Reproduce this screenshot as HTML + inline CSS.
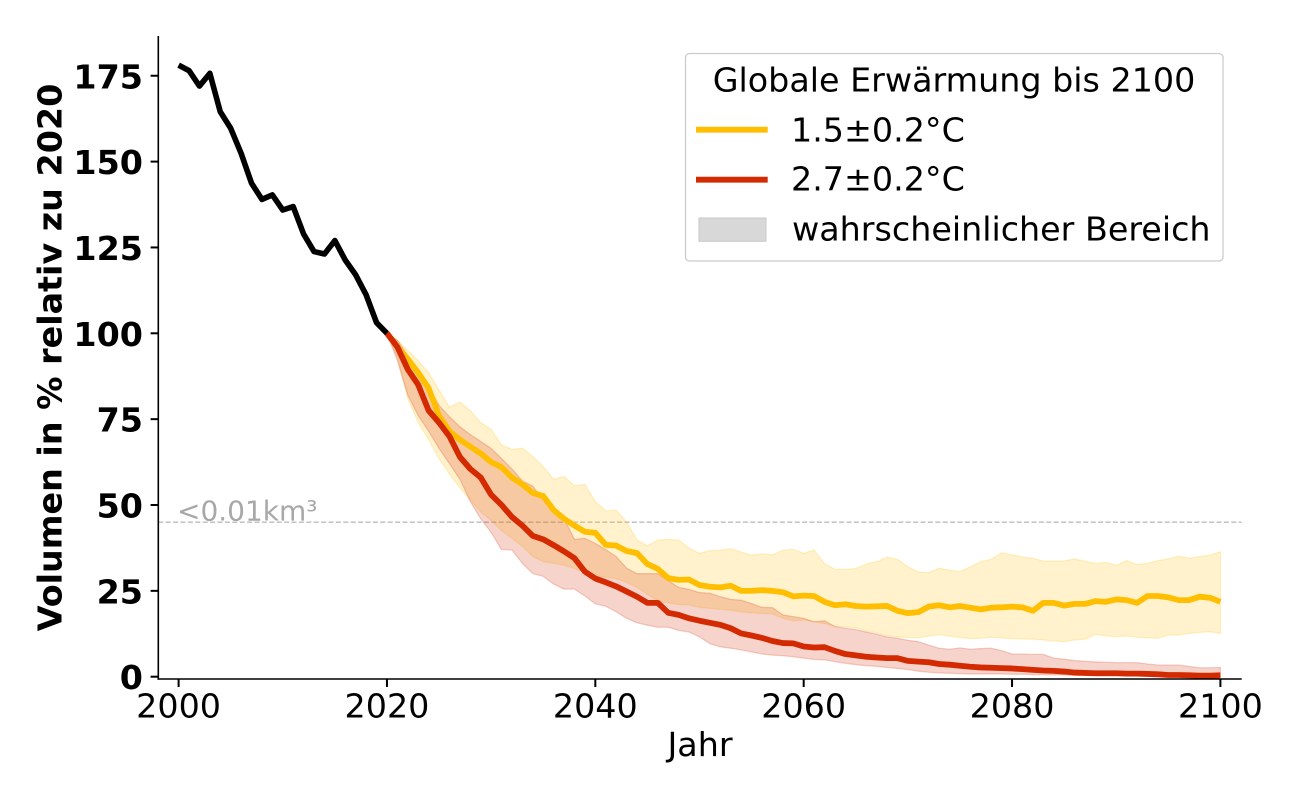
<!DOCTYPE html>
<html>
<head>
<meta charset="utf-8">
<style>
  html, body { margin: 0; padding: 0; background: #ffffff; }
  svg { display: block; }
  text { font-family: "DejaVu Sans", "Liberation Sans", sans-serif; }
</style>
</head>
<body>
<svg width="1300" height="800" viewBox="0 0 1300 800" xmlns="http://www.w3.org/2000/svg">
  <rect x="0" y="0" width="1300" height="800" fill="#ffffff"/>

  <!-- reference dashed line -->
  <line x1="158.3" y1="522.2" x2="1241.7" y2="522.2" stroke="#bcbcbc" stroke-width="1.3" stroke-dasharray="5,2.4"/>
  <text x="177" y="520.5" font-size="28" fill="#a8a8a8">&lt;0.01km³</text>

  <!-- data group: x = 178.6 + t*10.418, y = 676.7 - v*3.434 -->
  <g transform="translate(178.6,676.7) scale(10.418,-3.434)">
    <!-- yellow band -->
    <polygon fill="#FFBF00" fill-opacity="0.2" stroke="#FFBF00" stroke-opacity="0.2" stroke-width="1.3" vector-effect="non-scaling-stroke" stroke-linejoin="round"
      points="20,100 21,98 22,95 23,92 24,88.5 25,83.5 26,78.5 27,80 28,77.5 29,74 30,72 31,67.5 32,66.2 33,66.6 34,64.1 35,61.2 36,57.5 37,58.3 38,55.6 39,56 40,51 41,48.3 42,48.5 43,45.1 44,39.8 45,38.1 46,39.8 47,40 48,39.8 49,37.4 50,35.9 51,36.7 52,36.8 53,37.3 54,36.3 55,35.4 56,35.8 57,35.5 58,36.8 59,37.1 60,35.9 61,36.9 62,32.9 63,31.3 64,31.3 65,31.5 66,32.8 67,33.5 68,34.8 69,34.2 70,32 71,30.5 72,30.3 73,31.6 74,31 75,30.6 76,32 77,33.5 78,34.2 79,36.1 80,35.5 81,34.9 82,34.5 83,33.7 84,33.7 85,33.7 86,34.3 87,33.6 88,33 89,33.3 90,32.5 91,33.8 92,32.7 93,33 94,33.8 95,34.3 96,35.1 97,34.5 98,35 99,35.4 100,36.4
      100,12.6 99,13.1 98,12.9 97,12.6 96,12.1 95,12.1 94,11.2 93,11.3 92,11.5 91,11.9 90,11.6 89,11.9 88,12.3 87,10.9 86,10.7 85,10.2 84,10.4 83,10.7 82,10.9 81,11 80,11.1 79,11.3 78,11.5 77,11.2 76,11.1 75,11.4 74,11.8 73,12.3 72,11.8 71,11.3 70,11.4 69,11.6 68,11.9 67,12.8 66,13.3 65,14.2 64,14.5 63,14.7 62,15.5 61,16 60,16.5 59,16.3 58,17 57,18.3 56,18.4 55,18.6 54,18.9 53,19.4 52,19.6 51,19.9 50,20.2 49,20.9 48,21 47,21.5 46,22.2 45,24 44,26 43,27.5 42,28.5 41,29 40,29.5 39,30.3 38,31.5 37,32.5 36,33 35,33.5 34,35 33,38 32,40.3 31,42.5 30,45.5 29,48 28,51.5 27,55 26,59 25,63.5 24,69 23,74 22,81 21,93 20,100"/>
    <!-- red band -->
    <polygon fill="#D42A02" fill-opacity="0.2" stroke="#D42A02" stroke-opacity="0.2" stroke-width="1.3" vector-effect="non-scaling-stroke" stroke-linejoin="round"
      points="20,100 21,98 22,93.5 23,89 24,84.5 25,79 26,75.7 27,72.8 28,70.5 29,68.5 30,66.5 31,63.5 32,60.5 33,57 34,55.5 35,51.5 36,48.7 37,46 38,40 39,40.3 40,38.8 41,37 42,35 43,31.6 44,30 45,30 46,30 47,28 48,26 49,25.4 50,24.5 51,24.3 52,23.3 53,22.5 54,22.3 55,21.3 56,20.2 57,20.1 58,18 59,17.5 60,17 61,16 62,16.3 63,14.6 64,14.1 65,13.7 66,13 67,12.4 68,11.6 69,11.2 70,10.6 71,10.2 72,9.2 73,8.3 74,8 75,8.4 76,8 77,8.2 78,8.3 79,7.6 80,6.6 81,6.6 82,6.5 83,6.5 84,5.4 85,5.1 86,4.7 87,4.5 88,4.3 89,4.2 90,4.1 91,4.1 92,4.1 93,3.7 94,3.4 95,3.4 96,3.4 97,3 98,2.6 99,2.6 100,2.7
      100,0.1 99,0.1 98,0.1 97,0.1 96,0.1 95,0.1 94,0.1 93,0.2 92,0.2 91,0.2 90,0.3 89,0.3 88,0.3 87,0.4 86,0.4 85,0.5 84,0.5 83,0.6 82,0.6 81,0.7 80,0.7 79,0.8 78,0.8 77,0.8 76,0.8 75,0.9 74,1 73,1.1 72,1.3 71,1.6 70,2.1 69,2.4 68,2.7 67,3 66,3.2 65,3.5 64,3.9 63,4.4 62,4.9 61,5 60,5.4 59,5.8 58,6.1 57,6.3 56,6.6 55,7.2 54,7.8 53,8.3 52,8.7 51,9.6 50,11.6 49,13 48,13.5 47,14.4 46,14.4 45,15 44,15.7 43,17 42,18.9 41,20.5 40,21.2 39,23.5 38,25.5 37,25.5 36,27 35,29.2 34,30 33,33 32,36.9 31,37 30,42 29,46 28,51 27,57.5 26,62 25,66.5 24,71.5 23,76 22,82 21,92 20,100"/>

    <!-- yellow line -->
    <polyline fill="none" stroke="#FFBF00" stroke-width="5.8" vector-effect="non-scaling-stroke" stroke-linejoin="round" stroke-linecap="butt"
      points="20,100 21,96 22,92.5 23,88.5 24,84 25,76 26,71.5 27,69 28,67 29,65 30,62.5 31,61 32,58 33,56 34,53.5 35,52.6 36,48.5 37,46 38,44 39,42.2 40,41.9 41,38.4 42,38.2 43,36.6 44,36 45,32.8 46,31.4 47,28.7 48,28.2 49,28.3 50,26.7 51,26.2 52,26 53,26.5 54,25 55,25 56,25.2 57,25 58,24.6 59,23.4 60,23.6 61,23.5 62,21.8 63,20.8 64,21.1 65,20.6 66,20.4 67,20.5 68,20.6 69,19.2 70,18.5 71,18.8 72,20.4 73,20.8 74,20.2 75,20.6 76,20.1 77,19.6 78,20.1 79,20.2 80,20.4 81,20.2 82,19.2 83,21.5 84,21.5 85,20.7 86,21.2 87,21.2 88,22 89,21.8 90,22.5 91,22.3 92,21.5 93,23.5 94,23.5 95,23.1 96,22.3 97,22.3 98,23.3 99,23 100,21.8"/>
    <!-- red line -->
    <polyline fill="none" stroke="#D42A02" stroke-width="5.8" vector-effect="non-scaling-stroke" stroke-linejoin="round" stroke-linecap="butt"
      points="20,100 21,96 22,89.5 23,85 24,77.5 25,74 26,70 27,64 28,60.5 29,58 30,53 31,50 32,46.5 33,44 34,41 35,40 36,38.3 37,36.5 38,34.5 39,30.6 40,28.6 41,27.5 42,26.3 43,24.8 44,23.3 45,21.5 46,21.5 47,18.6 48,18 49,17 50,16.3 51,15.7 52,15.1 53,14.1 54,12.6 55,12 56,11.3 57,10.4 58,9.8 59,9.7 60,8.8 61,8.5 62,8.6 63,7.5 64,6.6 65,6.2 66,5.8 67,5.6 68,5.4 69,5.4 70,4.6 71,4.4 72,4.2 73,3.7 74,3.5 75,3.2 76,2.9 77,2.7 78,2.6 79,2.5 80,2.4 81,2.2 82,2 83,1.8 84,1.7 85,1.5 86,1.2 87,1.1 88,1 89,1 90,1 91,0.9 92,0.9 93,0.8 94,0.7 95,0.5 96,0.5 97,0.4 98,0.3 99,0.3 100,0.4"/>
    <!-- black historical line -->
    <polyline fill="none" stroke="#000000" stroke-width="5.6" vector-effect="non-scaling-stroke" stroke-linejoin="round" stroke-linecap="butt"
      points="0,178.1 1,176.5 2,172 3,175.7 4,164.5 5,159.7 6,152.4 7,143.7 8,139 9,140.3 10,135.9 11,136.9 12,128.9 13,123.8 14,123.1 15,127 16,121.3 17,117 18,111.2 19,103.1 20,100"/>
  </g>

  <!-- spines -->
  <line x1="158.3" y1="36" x2="158.3" y2="679.8" stroke="#000" stroke-width="1.6"/>
  <line x1="157.5" y1="679" x2="1241.7" y2="679" stroke="#000" stroke-width="1.6"/>

  <!-- y ticks -->
  <g stroke="#000" stroke-width="2">
    <line x1="150.6" y1="676.7" x2="158" y2="676.7"/>
    <line x1="150.6" y1="590.85" x2="158" y2="590.85"/>
    <line x1="150.6" y1="505" x2="158" y2="505"/>
    <line x1="150.6" y1="419.15" x2="158" y2="419.15"/>
    <line x1="150.6" y1="333.3" x2="158" y2="333.3"/>
    <line x1="150.6" y1="247.45" x2="158" y2="247.45"/>
    <line x1="150.6" y1="161.6" x2="158" y2="161.6"/>
    <line x1="150.6" y1="75.75" x2="158" y2="75.75"/>
  </g>
  <g font-size="33.33" font-weight="bold" text-anchor="end" fill="#000">
    <text x="143" y="689.2">0</text>
    <text x="143" y="603.4">25</text>
    <text x="143" y="517.5">50</text>
    <text x="143" y="431.7">75</text>
    <text x="143" y="345.8">100</text>
    <text x="143" y="260">125</text>
    <text x="143" y="174.1">150</text>
    <text x="143" y="88.3">175</text>
  </g>

  <!-- x ticks -->
  <g stroke="#000" stroke-width="2">
    <line x1="178.6" y1="679.5" x2="178.6" y2="687"/>
    <line x1="386.96" y1="679.5" x2="386.96" y2="687"/>
    <line x1="595.32" y1="679.5" x2="595.32" y2="687"/>
    <line x1="803.68" y1="679.5" x2="803.68" y2="687"/>
    <line x1="1012.04" y1="679.5" x2="1012.04" y2="687"/>
    <line x1="1220.4" y1="679.5" x2="1220.4" y2="687"/>
  </g>
  <g font-size="33.33" text-anchor="middle" fill="#000">
    <text x="178.6" y="717.3">2000</text>
    <text x="386.96" y="717.3">2020</text>
    <text x="595.32" y="717.3">2040</text>
    <text x="803.68" y="717.3">2060</text>
    <text x="1012.04" y="717.3">2080</text>
    <text x="1220.4" y="717.3">2100</text>
  </g>

  <!-- axis labels -->
  <text x="700" y="756" font-size="33.33" text-anchor="middle" fill="#000">Jahr</text>
  <text transform="translate(61.5,357.5) rotate(-90)" font-size="33.33" font-weight="bold" text-anchor="middle" fill="#000">Volumen in % relativ zu 2020</text>

  <!-- legend -->
  <rect x="685.5" y="53.5" width="537.5" height="207.5" rx="4" ry="4" fill="#ffffff" fill-opacity="0.85" stroke="#cccccc" stroke-width="1.3"/>
  <text x="954" y="91.5" font-size="33.33" text-anchor="middle" fill="#000">Globale Erwärmung bis 2100</text>
  <line x1="696" y1="129.7" x2="767.7" y2="129.7" stroke="#FFBF00" stroke-width="5.8"/>
  <text x="791" y="141.5" font-size="33.33" fill="#000">1.5±0.2°C</text>
  <line x1="696" y1="179.7" x2="767.7" y2="179.7" stroke="#D42A02" stroke-width="5.8"/>
  <text x="791" y="190.7" font-size="33.33" fill="#000">2.7±0.2°C</text>
  <rect x="699" y="218" width="67" height="23.3" fill="#d8d8d8" stroke="#c8c8c8" stroke-width="1"/>
  <text x="792" y="240.7" font-size="33.33" fill="#000">wahrscheinlicher Bereich</text>
</svg>
</body>
</html>
